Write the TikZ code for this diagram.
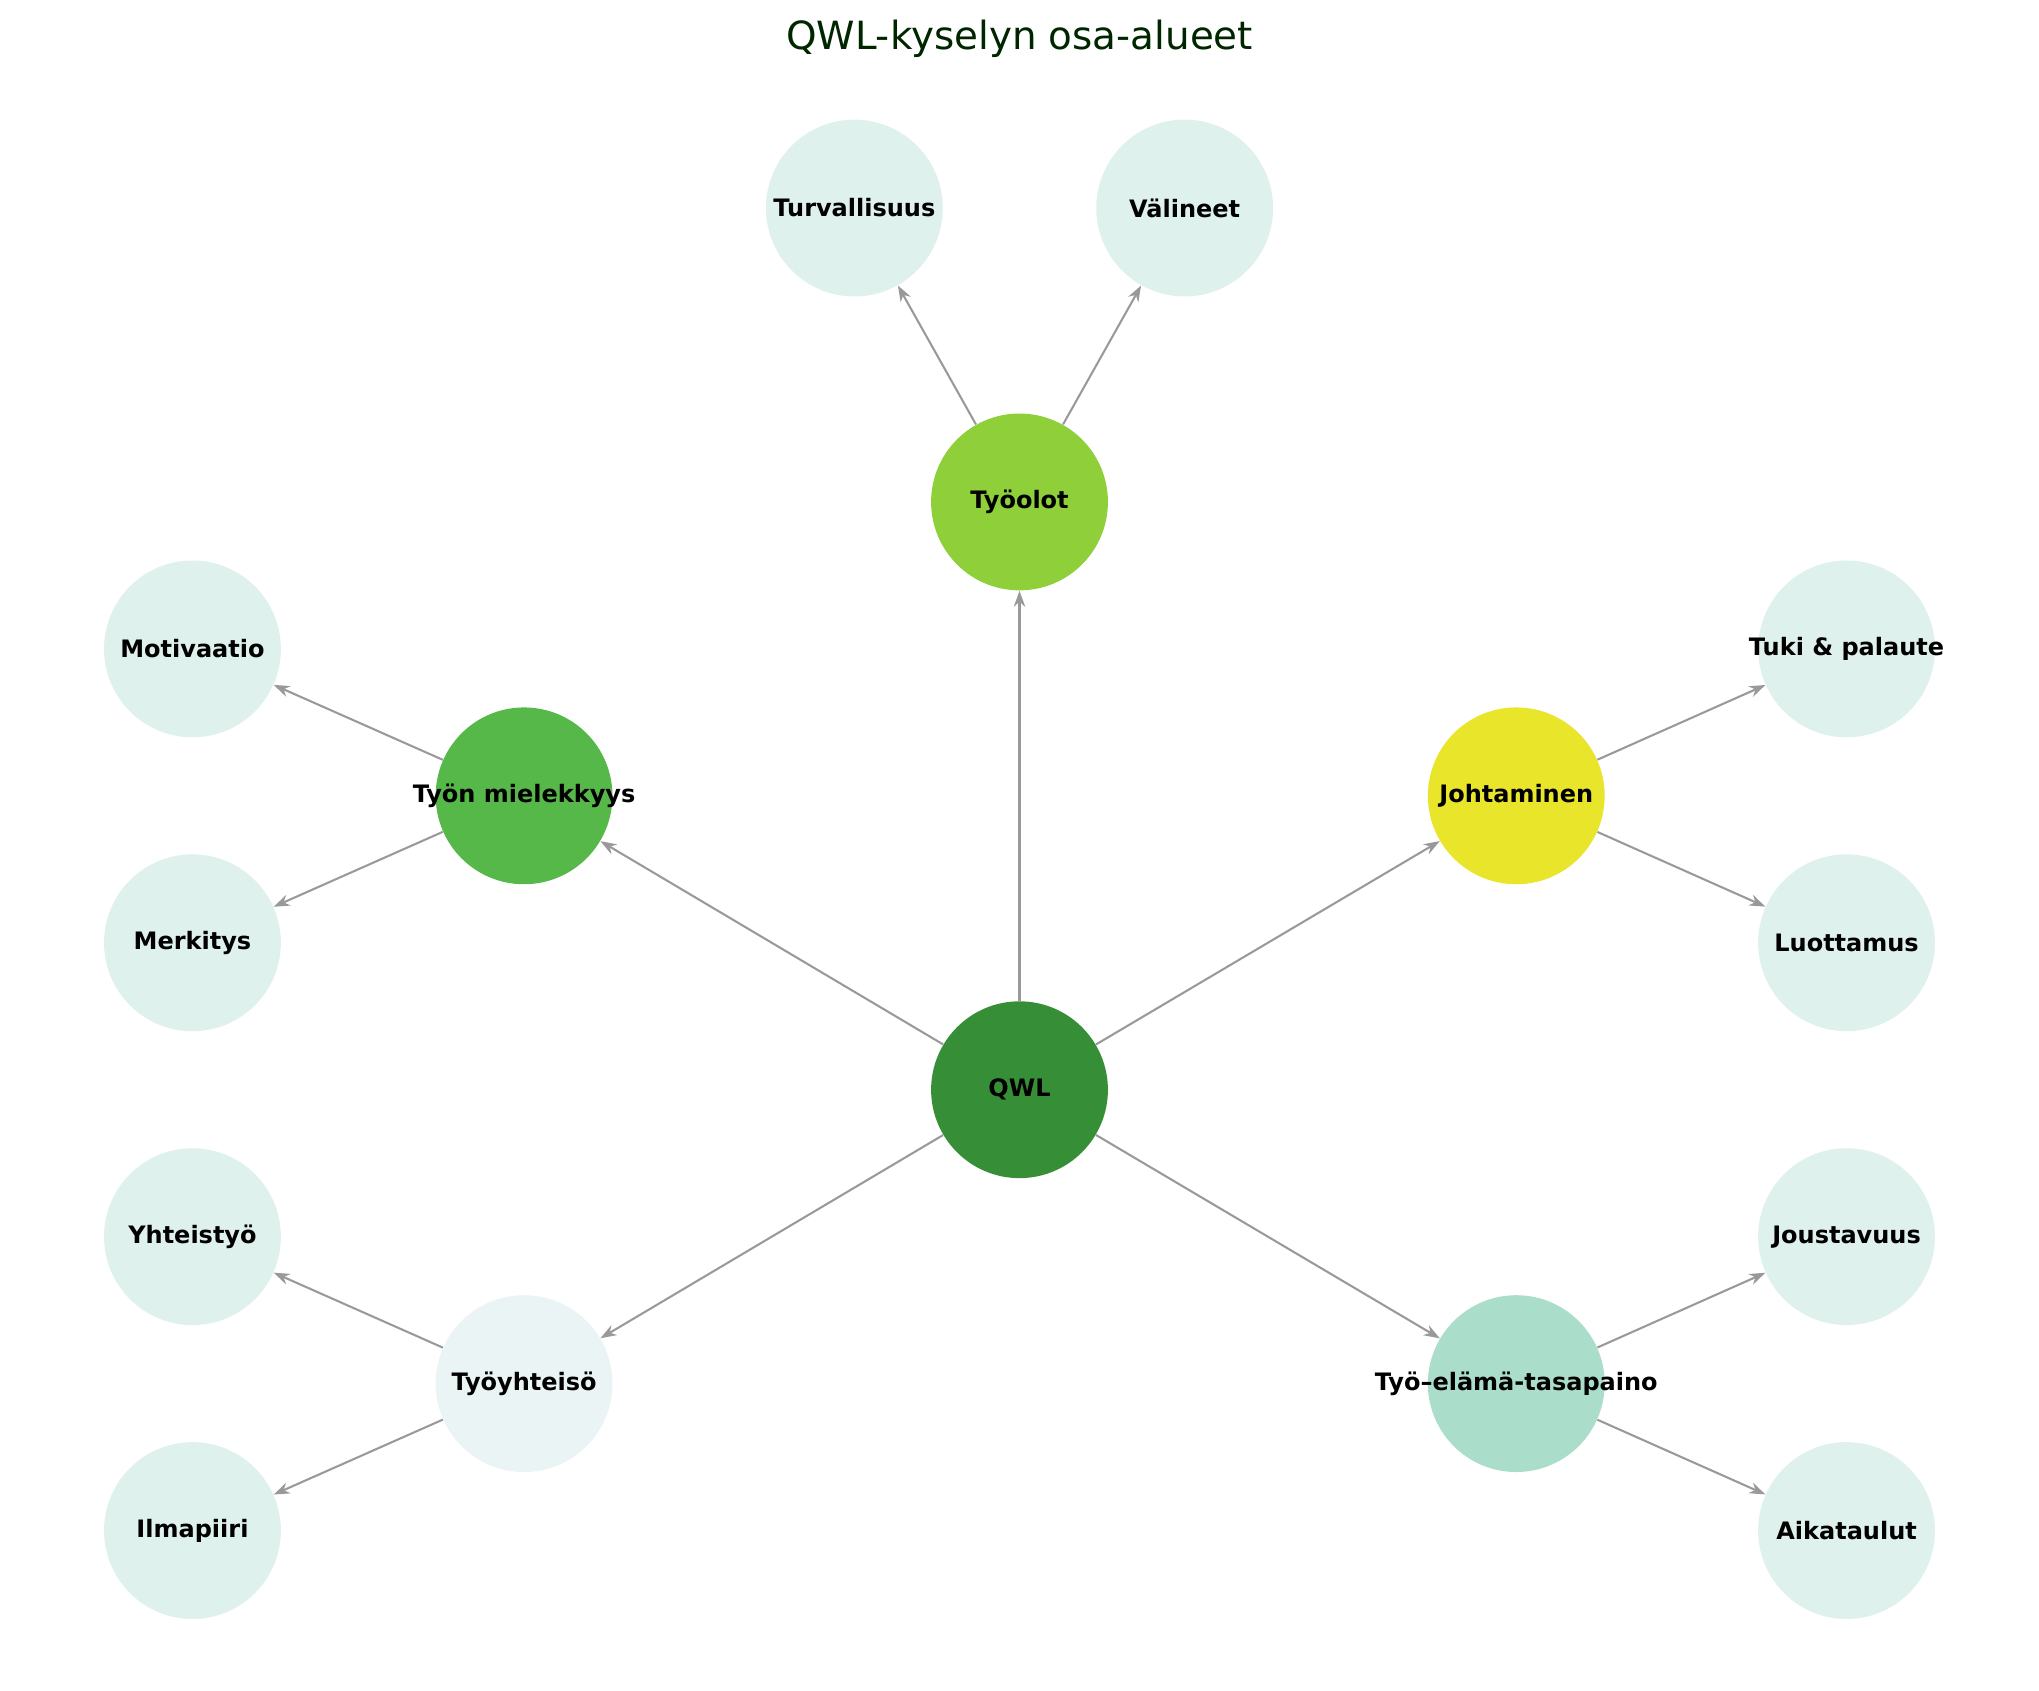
\documentclass[tikz,border=0pt]{standalone}
\usepackage{fontspec}
\setmainfont{DejaVu Sans}
\usetikzlibrary{arrows.meta}
\definecolor{leaf}{HTML}{DFF1EC}
\definecolor{cqwl}{HTML}{368F37}
\definecolor{cto}{HTML}{8ECF3A}
\definecolor{cmi}{HTML}{56B848}
\definecolor{cjo}{HTML}{E8E52A}
\definecolor{cty}{HTML}{EBF4F4}
\definecolor{cte}{HTML}{AADECB}
\definecolor{edgec}{HTML}{999999}
\begin{document}
\begin{tikzpicture}[x=0.02cm,y=-0.02cm,
  c/.style={circle,minimum size=2.72cm,inner sep=0pt,draw=none},
  lab/.style={font=\bfseries\fontsize{10.5}{12}\selectfont},
  e/.style={draw=edgec,line width=0.9pt,-{Stealth[length=7pt,width=5pt]}}]
\fill[white] (0,0) rectangle (1568,1300);
\node[font=\fontsize{17}{20}\selectfont,text=black!85!green] (title) at (784,30) {QWL-kyselyn osa-alueet};
\node[c,fill=cqwl] (qwl) at (784,838) {};
\node[c,fill=cto] (to) at (784,386) {};
\node[c,fill=leaf] (tu) at (657,160) {};
\node[c,fill=leaf] (va) at (911,160) {};
\node[c,fill=cmi] (mi) at (403,612) {};
\node[c,fill=leaf] (mo) at (148,499) {};
\node[c,fill=leaf] (me) at (148,725) {};
\node[c,fill=cjo] (jo) at (1166,612) {};
\node[c,fill=leaf] (tk) at (1420,499) {};
\node[c,fill=leaf] (lu) at (1420,725) {};
\node[c,fill=cty] (ty) at (403,1064) {};
\node[c,fill=leaf] (yh) at (148,951) {};
\node[c,fill=leaf] (il) at (148,1177) {};
\node[c,fill=cte] (te) at (1166,1064) {};
\node[c,fill=leaf] (js) at (1420,951) {};
\node[c,fill=leaf] (ai) at (1420,1177) {};
\foreach \a/\b in {qwl/to,qwl/mi,qwl/jo,qwl/ty,qwl/te,to/tu,to/va,mi/mo,mi/me,jo/tk,jo/lu,ty/yh,ty/il,te/js,te/ai}
  \draw[e] (\a) -- (\b);
\node[lab] (lqwl) at (qwl) {QWL};
\node[lab] (lto) at (to) {Työolot};
\node[lab] (ltu) at (tu) {Turvallisuus};
\node[lab] (lva) at (va) {Välineet};
\node[lab] (lmi) at (mi) {Työn mielekkyys};
\node[lab] (lmo) at (mo) {Motivaatio};
\node[lab] (lme) at (me) {Merkitys};
\node[lab] (ljo) at (jo) {Johtaminen};
\node[lab] (ltk) at (tk) {Tuki \& palaute};
\node[lab] (llu) at (lu) {Luottamus};
\node[lab] (lty) at (ty) {Työyhteisö};
\node[lab] (lyh) at (yh) {Yhteistyö};
\node[lab] (lil) at (il) {Ilmapiiri};
\node[lab] (lte) at (te) {Työ–elämä-tasapaino};
\node[lab] (ljs) at (js) {Joustavuus};
\node[lab] (lai) at (ai) {Aikataulut};
\end{tikzpicture}
\end{document}
